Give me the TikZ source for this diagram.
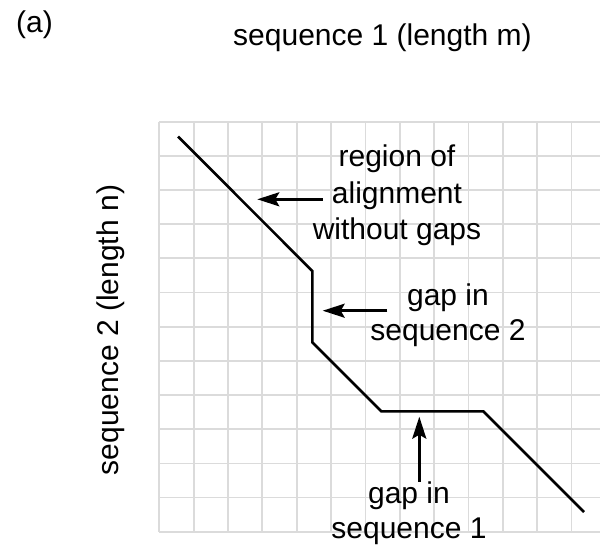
\documentclass[tikz,border=0pt]{standalone}
\usepackage{fontspec}
\setmainfont{Liberation Sans}
\usetikzlibrary{arrows.meta}
\begin{document}
\begin{tikzpicture}[x=1pt,y=-1pt,
  gridline/.style={line width=1.8pt, draw=black!14},
  pathline/.style={line width=2.6pt, line join=miter},
  pointer/.style={line width=2.6pt, -{Stealth[length=22pt,width=14pt,inset=4pt]}},
  lbl/.style={inner sep=0pt, font=\fontsize{30}{35}\selectfont, align=center}]
\useasboundingbox (0,0) rectangle (600,550);
\begin{scope}
\clip (0,0) rectangle (600,550);
\foreach \i in {0,...,13} \draw[gridline] ({159.3+34.35*\i},121.7) -- ({159.3+34.35*\i},531.7);
\foreach \j in {0,...,12} \draw[gridline] (159.3,{121.7+34.17*\j}) -- (610,{121.7+34.17*\j});
\end{scope}
% alignment path
\coordinate (p0) at (178,136.5);
\coordinate (p1) at (312.3,271);
\coordinate (p2) at (312.3,342.3);
\coordinate (p3) at (381.3,411.3);
\coordinate (p4) at (483.3,411.3);
\coordinate (p5) at (584,512);
\draw[pathline] (p0) -- (p1) -- (p2) -- (p3) -- (p4) -- (p5);
% labels
\node[lbl, anchor=base west] (lab) at (16,32) {(a)};
\node[lbl, anchor=base] (seqm) at (382.5,45) {sequence 1 (length m)};
\node[lbl, anchor=base, rotate=90] (seqn) at (118.5,330) {sequence 2 (length n)};
\node[lbl, font=\fontsize{30}{36.5}\selectfont] (t1) at (397,195.5) {region of\\alignment\\without gaps};
\node[lbl] (t2) at (448,315) {gap in\\sequence 2};
\node[lbl] (t3) at (409,513) {gap in\\sequence 1};
% arrows
\coordinate (a1s) at (322.7,199.3);
\coordinate (a1e) at (257.3,199.3);
\coordinate (a2s) at (387.3,310.7);
\coordinate (a2e) at (322.7,310.7);
\coordinate (a3s) at (419.3,481.7);
\coordinate (a3e) at (419.3,416.7);
\draw[pointer] (a1s) -- (a1e);
\draw[pointer] (a2s) -- (a2e);
\draw[pointer] (a3s) -- (a3e);
\end{tikzpicture}
\end{document}
